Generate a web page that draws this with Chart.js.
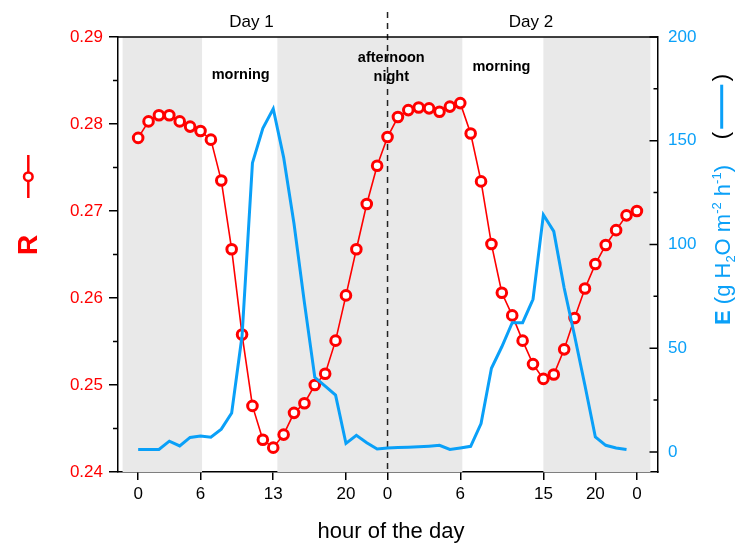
<!DOCTYPE html>
<html>
<head>
<meta charset="utf-8">
<script src="https://cdn.jsdelivr.net/npm/chart.js@4.4.1/dist/chart.umd.min.js"></script>
<style>
  body { margin: 0; background: #fff; }
</style>
</head>
<body>
<canvas id="mychart" width="735" height="545"></canvas>
<script>
// R (left axis), one value per sample
const rValues = [0.2784, 0.2803, 0.2810, 0.2810, 0.2803, 0.2797, 0.2792, 0.2782, 0.2735, 0.2656,
                 0.2558, 0.2476, 0.2437, 0.2428, 0.2443, 0.2468, 0.2479, 0.2500, 0.2513, 0.2551,
                 0.2603, 0.2656, 0.2708, 0.2752, 0.2785, 0.2808, 0.2816, 0.2819, 0.2818, 0.2814,
                 0.2820, 0.2824, 0.2789, 0.2734, 0.2662, 0.2606, 0.2580, 0.2551, 0.2524, 0.2507,
                 0.2512, 0.2541, 0.2577, 0.2611, 0.2639, 0.2661, 0.2678, 0.2695, 0.2700];
// E (right axis)
const eValues = [1.2, 1.2, 1.2, 5.2, 2.9, 7.0, 7.7, 7.1, 11, 18.8,
                 56, 139.3, 156, 165.4, 142, 110, 72, 36, 31.7, 27.4,
                 4.1, 8, 4.4, 1.4, 1.9, 2.1, 2.3, 2.5, 2.8, 3.2,
                 1.2, 1.9, 2.7, 13.7, 40.3, 50.7, 62.3, 62.3, 73.6, 114.3,
                 106.3, 79, 56, 32, 7.2, 3.2, 1.9, 1.2];

const tickPos = [0, 6, 13, 20, 24, 31, 39, 44, 48];
const tickLabels = ['0', '6', '13', '20', '0', '6', '15', '20', '0'];
const rTicks = [0.24, 0.25, 0.26, 0.27, 0.28, 0.29];
const eTicks = [0, 50, 100, 150, 200];

// grey (dark period) bands, in sample units
const shadeStart = [-1.5, 13.4, 39.0];
const shadeEnd = [6.15, 31.2, 49.3];
const dayBreak = 24;
const dayNames = ['Day 1', 'Day 2'];
const dayPos = [10.9, 37.8];

const red = '#ff0000';
const blue = '#0aa0f8';
const ff = "'Liberation Sans', Arial, sans-serif";

const extras = {
  id: 'extras',
  beforeDatasetsDraw(chart) {
    const { ctx, chartArea: a, scales: { x } } = chart;
    ctx.save();
    ctx.fillStyle = '#e9e9e9';
    shadeStart.forEach((s, i) => {
      const x0 = x.getPixelForValue(s), x1 = x.getPixelForValue(shadeEnd[i]);
      ctx.fillRect(x0, a.top, x1 - x0, a.bottom - a.top);
    });
    const xd = x.getPixelForValue(dayBreak);
    ctx.strokeStyle = '#222';
    ctx.lineWidth = 1.5;
    ctx.setLineDash([6, 5]);
    ctx.beginPath();
    ctx.moveTo(xd, 12);
    ctx.lineTo(xd, a.bottom);
    ctx.stroke();
    ctx.restore();
  },
  afterDatasetsDraw(chart) {
    const { ctx, chartArea: a, scales: { x, y, y1 } } = chart;
    ctx.save();
    // top frame line
    ctx.strokeStyle = '#000';
    ctx.lineWidth = 1.5;
    ctx.beginPath();
    ctx.moveTo(a.left, a.top);
    ctx.lineTo(a.right, a.top);
    ctx.stroke();

    // minor ticks left (outward)
    ctx.beginPath();
    for (let v = 0.245; v < 0.29; v += 0.01) {
      const py = y.getPixelForValue(v);
      ctx.moveTo(a.left - 5, py);
      ctx.lineTo(a.left, py);
    }
    // right ticks (inward)
    eTicks.forEach(v => {
      const py = y1.getPixelForValue(v);
      ctx.moveTo(a.right - 8.5, py);
      ctx.lineTo(a.right, py);
    });
    for (let v = 25; v < 200; v += 50) {
      const py = y1.getPixelForValue(v);
      ctx.moveTo(a.right - 4.5, py);
      ctx.lineTo(a.right, py);
    }
    ctx.stroke();

    // day labels
    ctx.fillStyle = '#000';
    ctx.textAlign = 'center';
    ctx.textBaseline = 'middle';
    ctx.font = `17px ${ff}`;
    dayNames.forEach((d, i) => ctx.fillText(d, x.getPixelForValue(dayPos[i]), 22));

    ctx.font = `bold 14.5px ${ff}`;
    ctx.fillText('morning', x.getPixelForValue(9.87), 75);
    ctx.fillText('afternoon', x.getPixelForValue(24.36), 58);
    ctx.fillText('night', x.getPixelForValue(24.36), 77);
    ctx.fillText('morning', x.getPixelForValue(34.96), 67);

    // x title
    ctx.font = `22px ${ff}`;
    ctx.fillText('hour of the day', 391, 532);

    // left title R + symbol
    ctx.save();
    ctx.translate(28, 245);
    ctx.rotate(-Math.PI / 2);
    ctx.fillStyle = red;
    ctx.font = `bold 28px ${ff}`;
    ctx.fillText('R', 0, 1);
    ctx.restore();
    ctx.strokeStyle = red;
    ctx.lineWidth = 2.5;
    ctx.beginPath();
    ctx.moveTo(28.3, 155);
    ctx.lineTo(28.3, 198);
    ctx.stroke();
    ctx.fillStyle = '#fff';
    ctx.beginPath();
    ctx.arc(28.3, 176.7, 4.3, 0, Math.PI * 2);
    ctx.fill();
    ctx.stroke();

    // right title
    ctx.save();
    ctx.translate(721.7, 245);
    ctx.rotate(-Math.PI / 2);
    ctx.fillStyle = blue;
    ctx.textAlign = 'left';
    ctx.textBaseline = 'alphabetic';
    const big = 22, small = 13;
    const parts = [
      { t: 'E', f: `bold ${big}px ${ff}`, dy: 0 },
      { t: ' (g H', f: `${big}px ${ff}`, dy: 0 },
      { t: '2', f: `${small}px ${ff}`, dy: 5 },
      { t: 'O m', f: `${big}px ${ff}`, dy: 0 },
      { t: '-2', f: `${small}px ${ff}`, dy: -9 },
      { t: ' h', f: `${big}px ${ff}`, dy: 0 },
      { t: '-1', f: `${small}px ${ff}`, dy: -9 },
      { t: ')', f: `${big}px ${ff}`, dy: 0 }
    ];
    let total = 0;
    parts.forEach(p => { ctx.font = p.f; p.w = ctx.measureText(p.t).width; total += p.w; });
    let cx = -total / 2;
    parts.forEach(p => { ctx.font = p.f; ctx.fillText(p.t, cx, 8 + p.dy); cx += p.w; });
    ctx.restore();

    // right legend symbol ( —— )
    ctx.save();
    ctx.translate(721.7, 106.7);
    ctx.rotate(-Math.PI / 2);
    ctx.fillStyle = '#000';
    ctx.font = `${big}px ${ff}`;
    ctx.textAlign = 'center';
    ctx.textBaseline = 'middle';
    ctx.fillText('(', -29, 0);
    ctx.fillText(')', 29, 0);
    ctx.strokeStyle = blue;
    ctx.lineWidth = 3;
    ctx.beginPath();
    ctx.moveTo(-22, 0);
    ctx.lineTo(22, 0);
    ctx.stroke();
    ctx.restore();

    ctx.restore();
  }
};

const canvas = document.getElementById('mychart');
new Chart(canvas, {
  type: 'line',
  data: {
    datasets: [
      {
        label: 'E',
        data: eValues.map((v, i) => ({ x: i, y: v })),
        yAxisID: 'y1',
        borderColor: blue,
        borderWidth: 3,
        pointRadius: 0,
        tension: 0,
        order: 0
      },
      {
        label: 'R',
        data: rValues.map((v, i) => ({ x: i, y: v })),
        yAxisID: 'y',
        borderColor: red,
        borderWidth: 1.6,
        pointRadius: 4.8,
        pointBorderWidth: 3,
        pointBackgroundColor: '#fff',
        pointBorderColor: red,
        tension: 0,
        order: 1
      }
    ]
  },
  options: {
    responsive: false,
    animation: false,
    layout: { padding: { top: 37, left: 0, right: 0, bottom: 0 } },
    plugins: { legend: { display: false }, tooltip: { enabled: false } },
    scales: {
      x: {
        type: 'linear',
        min: -1.94,
        max: 50.03,
        afterFit: s => { s.height = 73; },
        afterBuildTicks: s => { s.ticks = tickPos.map(v => ({ value: v })); },
        ticks: {
          callback: (v, i) => tickLabels[i],
          color: '#000',
          font: { family: ff, size: 17 },
          padding: 4,
          maxRotation: 0,
          autoSkip: false
        },
        grid: { drawOnChartArea: false, tickLength: 8, color: '#000', lineWidth: 1.5 },
        border: { color: '#000', width: 1.5 }
      },
      y: {
        position: 'left',
        min: 0.24,
        max: 0.29,
        afterFit: s => { s.width = 118; },
        afterBuildTicks: s => { s.ticks = rTicks.map(v => ({ value: v })); },
        ticks: {
          callback: v => v.toFixed(2),
          color: red,
          font: { family: ff, size: 17 },
          padding: 6
        },
        grid: { drawOnChartArea: false, tickLength: 9, color: '#000', lineWidth: 1.5 },
        border: { color: '#000', width: 1.5 }
      },
      y1: {
        position: 'right',
        min: -9.66,
        max: 200,
        afterFit: s => { s.width = 77; },
        afterBuildTicks: s => { s.ticks = eTicks.map(v => ({ value: v })); },
        ticks: {
          color: blue,
          font: { family: ff, size: 17 },
          padding: 10
        },
        grid: { drawOnChartArea: false, drawTicks: false },
        border: { color: '#000', width: 1.5 }
      }
    }
  },
  plugins: [extras]
});
</script>
</body>
</html>
